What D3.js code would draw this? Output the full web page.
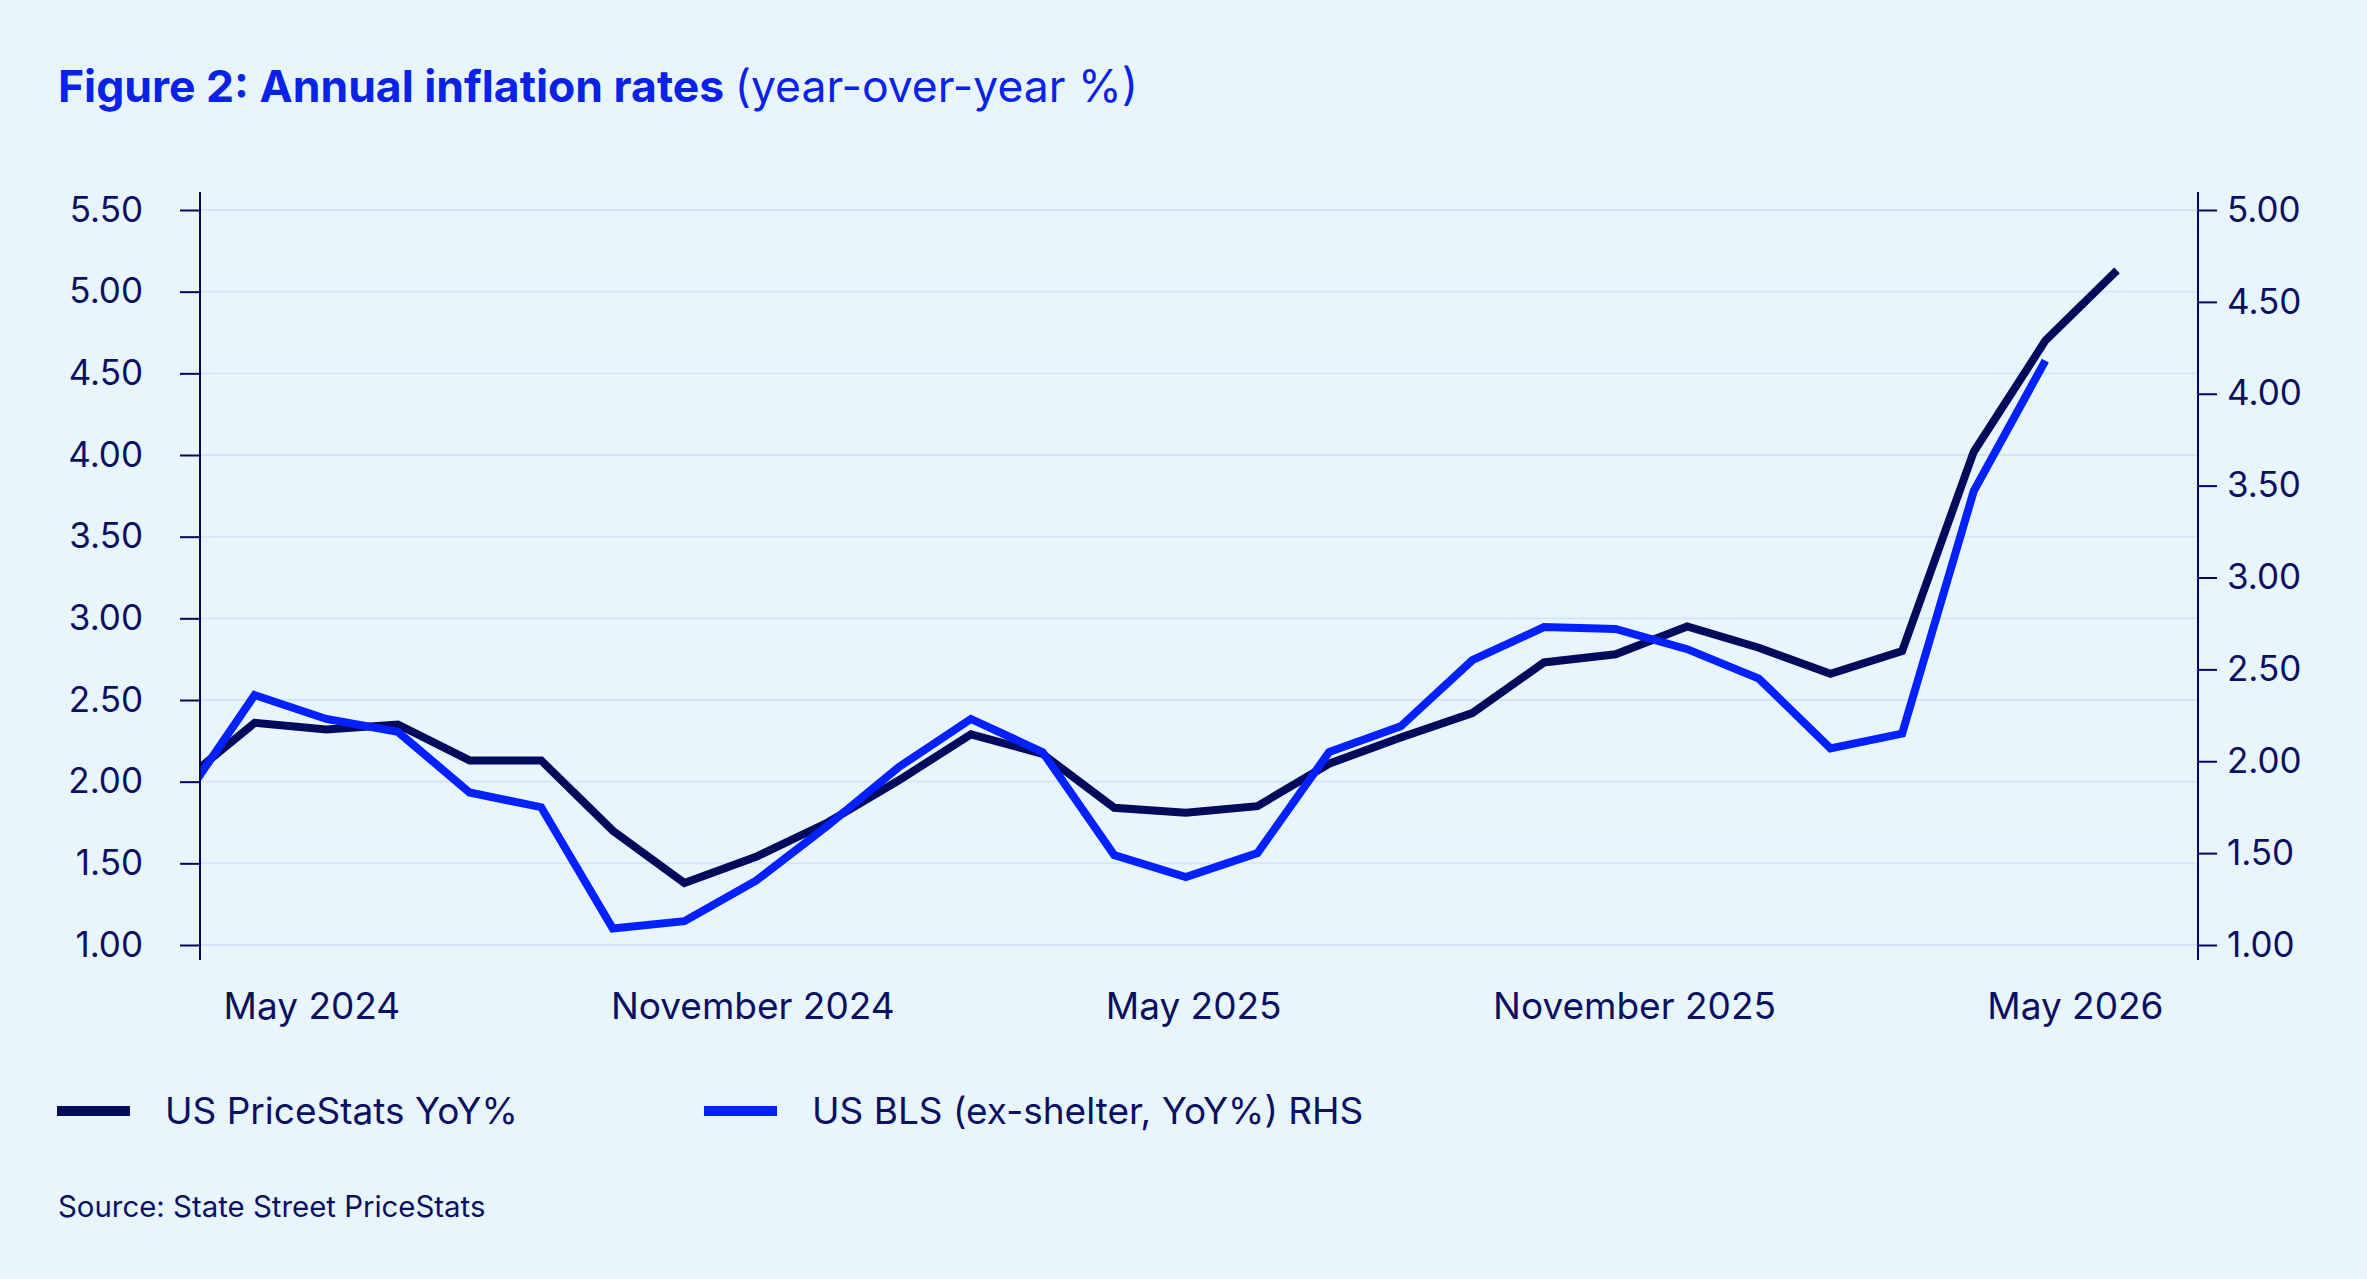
<!DOCTYPE html>
<html>
<head>
<meta charset="utf-8">
<script src="https://cdn.jsdelivr.net/npm/d3@7"></script>
<style>
  html, body { margin: 0; padding: 0; background: #e9f5fd; }
  svg { display: block; font-family: Inter, 'Noto Sans', sans-serif; }
</style>
</head>
<body>
<div id="chart"></div>
<script>
const width = 2367;
const height = 1279;

// monthly observations, first one sits just left of the axis
const months = [
  '2024-03', '2024-04', '2024-05', '2024-06', '2024-07', '2024-08', '2024-09',
  '2024-10', '2024-11', '2024-12', '2025-01', '2025-02', '2025-03', '2025-04',
  '2025-05', '2025-06', '2025-07', '2025-08', '2025-09', '2025-10', '2025-11',
  '2025-12', '2026-01', '2026-02', '2026-03', '2026-04', '2026-05', '2026-06'
];
const priceStats = [2.00, 2.36, 2.32, 2.35, 2.13, 2.13, 1.70, 1.38, 1.54, 1.75, 2.01, 2.29, 2.17, 1.84,
  1.81, 1.85, 2.11, 2.27, 2.42, 2.73, 2.78, 2.95, 2.82, 2.66, 2.80, 4.02, 4.70, 5.13];
const blsExShelter = [1.79, 2.36, 2.23, 2.16, 1.83, 1.75, 1.09, 1.13, 1.35, 1.65, 1.97, 2.23, 2.05, 1.49,
  1.37, 1.50, 2.05, 2.19, 2.55, 2.73, 2.72, 2.61, 2.45, 2.07, 2.15, 3.47, 4.18];

const xLabels = ['May 2024', 'November 2024', 'May 2025', 'November 2025', 'May 2026'];
const leftTicks = [1.0, 1.5, 2.0, 2.5, 3.0, 3.5, 4.0, 4.5, 5.0, 5.5];
const rightTicks = [1.0, 1.5, 2.0, 2.5, 3.0, 3.5, 4.0, 4.5, 5.0];
const seriesNames = ['US PriceStats YoY%', 'US BLS (ex-shelter, YoY%) RHS'];

const navy = '#020a5c';
const blue = '#0320ff';
const textColor = '#0b1161';
const plot = { left: 200, right: 2198, top: 192, bottom: 960 };

const svg = d3.select('#chart')
  .append('svg')
  .attr('width', width)
  .attr('height', height);

svg.append('rect')
  .attr('width', width)
  .attr('height', height)
  .attr('fill', '#e9f5fd');

// title
const title = svg.append('text')
  .attr('x', 58)
  .attr('y', 102)
  .attr('fill', '#0a22e6')
  .style('font-size', '44.5px');
title.append('tspan').attr('font-weight', 700).text('Figure 2: Annual inflation rates ');
title.append('tspan').attr('font-weight', 400).text('(year-over-year %)');

let x = d3.scaleLinear()
  .domain([0, months.length - 1])
  .range([183, 2117]);
let xLabel = d3.scalePoint()
  .domain(xLabels)
  .range([plot.left, plot.right])
  .padding(0.266)
  .align(0.475);
let yLeft = d3.scaleLinear().domain([1, 5.5]).range([945, 210]);
let yRight = d3.scaleLinear().domain([1, 5]).range([945, 210]);

// gridlines
svg.append('g')
  .selectAll('line')
  .data(leftTicks)
  .join('line')
  .attr('x1', plot.left)
  .attr('x2', plot.right)
  .attr('y1', d => yLeft(d))
  .attr('y2', d => yLeft(d))
  .attr('stroke', '#d1e5f7')
  .attr('stroke-width', 1.8);

svg.append('clipPath')
  .attr('id', 'plot-clip')
  .append('rect')
  .attr('x', plot.left)
  .attr('y', 0)
  .attr('width', plot.right - plot.left + 20)
  .attr('height', height);

const lines = svg.append('g').attr('clip-path', 'url(#plot-clip)');

lines.append('path')
  .datum(priceStats)
  .attr('d', d3.line().x((d, i) => x(i)).y(d => yLeft(d)))
  .attr('fill', 'none')
  .attr('stroke', navy)
  .attr('stroke-width', 8)
  .attr('stroke-linejoin', 'miter');

lines.append('path')
  .datum(blsExShelter)
  .attr('d', d3.line().x((d, i) => x(i)).y(d => yRight(d)))
  .attr('fill', 'none')
  .attr('stroke', blue)
  .attr('stroke-width', 8)
  .attr('stroke-linejoin', 'miter');

function styleAxis(g) {
  g.select('.domain').remove();
  g.selectAll('line').attr('stroke', navy).attr('stroke-width', 2);
  g.selectAll('text')
    .attr('fill', textColor)
    .style('font-size', '35px')
    .style('font-family', 'Inter, sans-serif');
}

svg.append('g')
  .attr('transform', `translate(${plot.left}, 0)`)
  .call(d3.axisLeft(yLeft).tickValues(leftTicks).tickFormat(d3.format('.2f')).tickSize(20).tickPadding(37))
  .call(styleAxis);

svg.append('g')
  .attr('transform', `translate(${plot.right}, 0)`)
  .call(d3.axisRight(yRight).tickValues(rightTicks).tickFormat(d3.format('.2f')).tickSize(19).tickPadding(10))
  .call(styleAxis);

// axis spines run a bit past the outer ticks
[plot.left, plot.right].forEach(px => {
  svg.append('line')
    .attr('x1', px).attr('x2', px)
    .attr('y1', plot.top).attr('y2', plot.bottom)
    .attr('stroke', navy)
    .attr('stroke-width', 2);
});

svg.append('g')
  .attr('transform', `translate(0, ${plot.bottom})`)
  .call(d3.axisBottom(xLabel).tickSize(0).tickPadding(33))
  .call(g => {
    g.select('.domain').remove();
    g.selectAll('text')
      .attr('fill', textColor)
      .style('font-size', '37px')
      .style('font-family', 'Inter, sans-serif');
  });

// legend
const legendX = [57, 704];
const legendColors = [navy, blue];
const legend = svg.append('g')
  .selectAll('g')
  .data(seriesNames)
  .join('g')
  .attr('transform', (d, i) => `translate(${legendX[i]}, 1111)`);
legend.append('line')
  .attr('x1', 0).attr('x2', 73)
  .attr('stroke', (d, i) => legendColors[i])
  .attr('stroke-width', 10);
legend.append('text')
  .attr('x', 108)
  .attr('y', 12.5)
  .attr('fill', textColor)
  .style('font-size', '37px')
  .text(d => d);

svg.append('text')
  .attr('x', 58)
  .attr('y', 1217)
  .attr('fill', textColor)
  .style('font-size', '29.4px')
  .text('Source: State Street PriceStats');
</script>
</body>
</html>
